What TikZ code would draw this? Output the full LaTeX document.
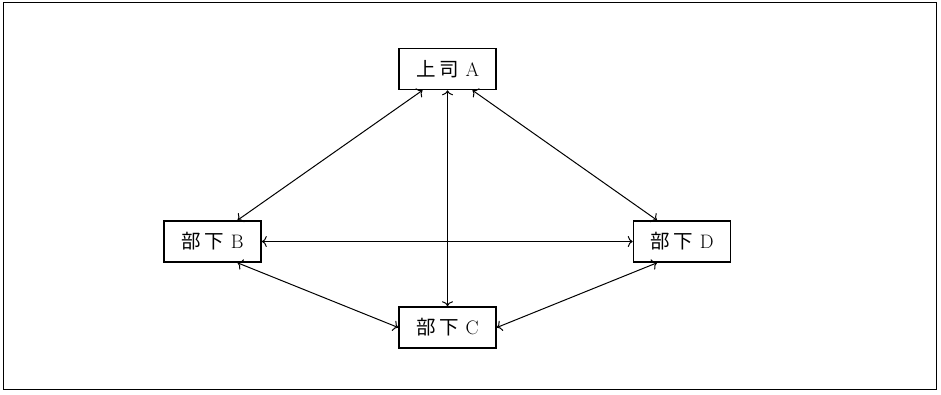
\documentclass[tikz,border=0pt]{standalone}
\usepackage{fontspec}
\newfontfamily\cjk{Noto Sans CJK JP}[Scale=1.0]
\usetikzlibrary{arrows.meta}
\newcommand\boxlabel[3]{{\cjk #1}\hspace{4pt}{\cjk #2}\hspace{6.5pt}#3}
\tikzset{
  box/.style={draw, line width=1.6pt, minimum width=97pt, minimum height=41pt, inner sep=0pt, font=\fontsize{19.5}{22}\selectfont},
  link/.style={line width=1pt, {To[length=5pt,width=11pt]}-{To[length=5pt,width=11pt]}},
  frame/.style={draw, line width=1.3pt}
}
\begin{document}
\begin{tikzpicture}[x=1pt,y=-1pt]
\useasboundingbox (0,0) rectangle (941,394);
\draw[frame] (3.5,2.5) rectangle (936.5,389.5);
\node[box] (A) at (447.5,69) {\boxlabel{上}{司}{A}};
\node[box] (B) at (212.5,241.5) {\boxlabel{部}{下}{B}};
\node[box] (C) at (447.5,327.5) {\boxlabel{部}{下}{C}};
\node[box] (D) at (682,241.5) {\boxlabel{部}{下}{D}};
\draw[link] ([xshift=-25pt]A.south) -- ([xshift=25pt]B.north);
\draw[link] ([xshift=25pt]A.south) -- ([xshift=-25pt]D.north);
\draw[link] (A.south) -- (C.north);
\draw[link] (B.east) -- (D.west);
\draw[link] ([xshift=25pt]B.south) -- (C.west);
\draw[link] (C.east) -- ([xshift=-25pt]D.south);
\end{tikzpicture}
\end{document}
